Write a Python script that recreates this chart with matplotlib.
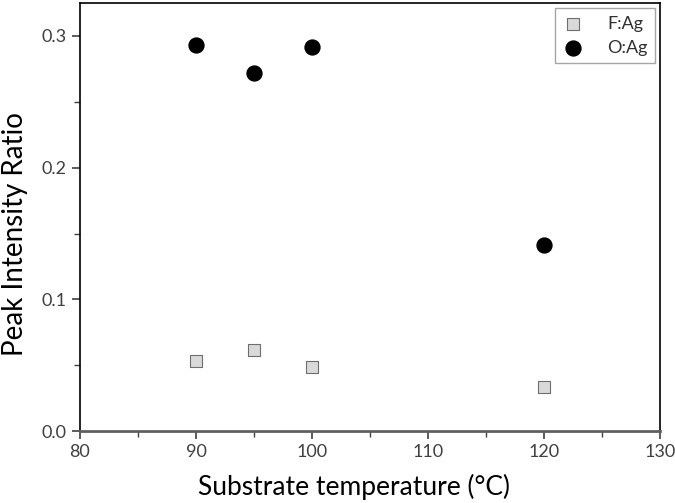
import matplotlib
matplotlib.use('Agg')
import matplotlib.pyplot as plt
from matplotlib.ticker import MultipleLocator

# data
temps = [90, 95, 100, 120]
f_ag = [0.0532, 0.0615, 0.0486, 0.0334]
o_ag = [0.293, 0.272, 0.2916, 0.1412]

plt.rcParams['font.family'] = ['Lato', 'DejaVu Sans']

fig = plt.figure(figsize=(6.75, 5.03), dpi=100)
ax = fig.add_axes([0.1185, 0.143, 0.8595, 0.851])

ax.scatter(temps, f_ag, marker='s', s=85, facecolor='#d9d9d9', edgecolor='#6e6e6e',
           linewidths=0.8, label='F:Ag', zorder=3)
ax.scatter(temps, o_ag, marker='o', s=115, facecolor='black', edgecolor='black',
           label='O:Ag', zorder=3)

ax.set_xlim(80, 130)
ax.set_ylim(0, 0.325)
ax.xaxis.set_major_locator(MultipleLocator(10))
ax.xaxis.set_minor_locator(MultipleLocator(5))
ax.yaxis.set_major_locator(MultipleLocator(0.1))
ax.yaxis.set_minor_locator(MultipleLocator(0.05))
ax.yaxis.set_major_formatter(plt.FormatStrFormatter('%.1f'))

ax.tick_params(which='both', direction='out', top=False, right=False,
               labelsize=13, colors='#404040', labelcolor='#404040')
ax.tick_params(which='major', length=6, width=1.2)
ax.tick_params(which='minor', length=4, width=1.0)
for side in ['left', 'right', 'top']:
    ax.spines[side].set_color('black')
    ax.spines[side].set_linewidth(1.2)
ax.spines['bottom'].set_color('#606060')
ax.spines['bottom'].set_linewidth(2)

ax.set_xlabel('Substrate temperature (\u00b0C)', fontsize=19, labelpad=10, x=0.472)
ax.set_ylabel('Peak Intensity Ratio', fontsize=20, labelpad=10, y=0.46)

leg = ax.legend(loc='upper right', fontsize=13, frameon=True, fancybox=False,
                edgecolor='#909090', handlelength=1.2, handletextpad=1.3,
                borderpad=0.4, labelspacing=0.45, markerscale=1.0,
                borderaxespad=0.3)
leg.get_frame().set_linewidth(1.0)
for t in leg.get_texts():
    t.set_color('#303030')

fig.savefig('out.png', dpi=100)
